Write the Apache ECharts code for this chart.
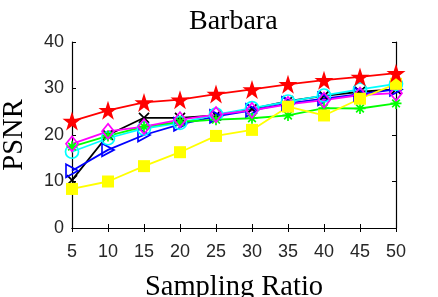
<!DOCTYPE html>
<html><head><meta charset="utf-8">
<script src="https://cdn.jsdelivr.net/npm/echarts@6/dist/echarts.min.js"></script>
<style>html,body{margin:0;padding:0;background:#fff}#c{width:438px;height:297px}</style>
</head><body><div id="c"></div>
<script>
const ratios = [5,10,15,20,25,30,35,40,45,50];
const yTicks = [0,10,20,30,40];
const redStar = [23.0,25.3,27.0,27.6,28.8,29.8,30.9,31.8,32.5,33.3];
const blackX = [10.3,20.0,23.7,23.7,24.2,25.6,27.3,28.4,29.3,29.8];
const blueTri = [12.3,16.8,20.0,22.3,24.0,25.3,26.8,27.8,28.8,29.8];
const magentaDia = [18.1,20.8,21.8,23.3,24.4,25.3,26.6,27.5,28.6,29.0];
const cyanCircle = [16.4,19.3,21.4,22.6,24.4,25.8,27.2,28.5,29.8,31.0];
const greenStar = [17.5,19.8,21.8,22.8,23.3,23.6,24.2,25.8,25.7,26.8];
const yellowSq = [8.4,10.0,13.3,16.3,19.8,21.1,26.1,24.2,27.8,31.0];

const STAR = 'path://M50,0L61.8,35.5L99,35.5L69,57.5L80.3,93L50,71L19.7,93L31,57.5L1,35.5L38.2,35.5Z';
const XMARK = 'path://M0,0L10,10M10,0L0,10';
const ASTER = 'path://M5,0L5,10M0,5L10,5M1.5,1.5L8.5,8.5M8.5,1.5L1.5,8.5';
const TRIR = 'path://M0,0L10,5L0,10Z';

function mk(name, data, color, symbol, size, filled){
  return {
    name, type:'line', data: ratios.map((r,i)=>[r,data[i]]),
    symbol, symbolSize:size, showSymbol:true,
    lineStyle:{color, width:1.8},
    itemStyle:{color: filled ? color : 'rgba(0,0,0,0)', borderColor:color, borderWidth: filled?0:1.7},
    emphasis:{disabled:true}, animation:false, z:2
  };
}
const series = [
  mk('black', blackX, '#000000', XMARK, 10, false),
  mk('blue', blueTri, '#0000ff', TRIR, [12,13], false),
  mk('cyan', cyanCircle, '#00ffff', 'circle', 13, false),
  mk('green', greenStar, '#00ff00', ASTER, 11, false),
  mk('magenta', magentaDia, '#ff00ff', 'diamond', [12,15], false),
  mk('yellow', yellowSq, '#ffff00', 'rect', 12, true),
  mk('red', redStar, '#ff0000', STAR, 19, true)
];
const chart = echarts.init(document.getElementById('c'), null, {renderer:'canvas'});
const axisTxt = {color:'#262626', fontFamily:'Liberation Sans', fontSize:18};
chart.setOption({
  animation:false,
  backgroundColor:'#fff',
  title:{text:'Barbara', left:189, top:8, padding:0,
    textStyle:{fontFamily:'Liberation Serif', fontWeight:'normal', fontSize:28, color:'#000'}},
  grid:{left:72, right:42, top:42, bottom:69, containLabel:false, outerBoundsMode:'none'},
  xAxis:[{type:'value', min:5, max:50, interval:5,
    name:'Sampling Ratio', nameLocation:'middle', nameGap:45,
    nameTextStyle:{fontFamily:'Liberation Serif', fontSize:28.5, color:'#000'},
    axisLine:{lineStyle:{color:'#000', width:1.2}},
    axisTick:{inside:true, length:4, lineStyle:{color:'#000'}},
    axisLabel:{...axisTxt, margin:15, formatter:v=>String(v)},
    splitLine:{show:false}},
    {type:'value', min:5, max:50, interval:5, position:'top',
    axisLine:{lineStyle:{color:'#000', width:1.2}},
    axisTick:{inside:true, length:4, lineStyle:{color:'#000'}},
    axisLabel:{show:false}, splitLine:{show:false}}],
  yAxis:[{type:'value', min:0, max:40, interval:10,
    name:'PSNR', nameLocation:'middle', nameGap:43,
    nameTextStyle:{fontFamily:'Liberation Serif', fontSize:28.5, color:'#000'},
    axisLine:{show:true, lineStyle:{color:'#000', width:1.2}},
    axisTick:{show:true, inside:true, length:4, lineStyle:{color:'#000'}},
    axisLabel:{...axisTxt, margin:8, formatter:v=>yTicks.includes(v)?String(v):''},
    splitLine:{show:false}},
    {type:'value', min:0, max:40, interval:10, position:'right',
    axisLine:{show:true, lineStyle:{color:'#000', width:1.2}},
    axisTick:{show:true, inside:true, length:4, lineStyle:{color:'#000'}},
    axisLabel:{show:false}, splitLine:{show:false}}],
  series
});
</script></body></html>
